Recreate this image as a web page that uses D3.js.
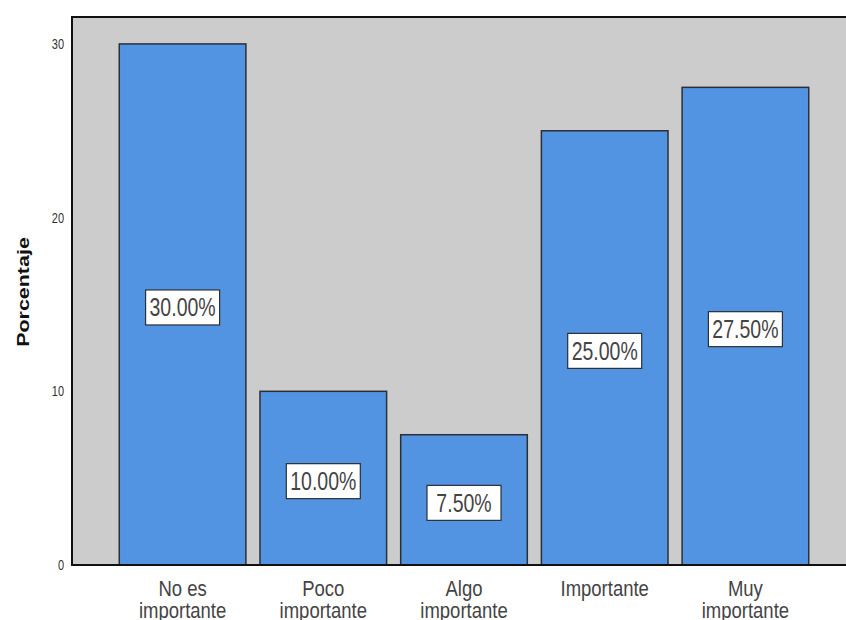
<!DOCTYPE html>
<html>
<head>
<meta charset="utf-8">
<script src="https://cdn.jsdelivr.net/npm/d3@7"></script>
<style>
  body { margin: 0; background: #fff; }
  svg { display: block; }
  text { font-family: "Liberation Sans", Arial, sans-serif; }
</style>
</head>
<body>
<svg id="chart"></svg>
<script>
// values
const categories = [["No es", "importante"], ["Poco", "importante"], ["Algo", "importante"], ["Importante"], ["Muy", "importante"]]
const percents = [30, 10, 7.5, 25, 27.5]
const yTicks = [0, 10, 20, 30]
const yLabel = "Porcentaje"

const width = 846, height = 620
// the plot runs past the right edge of the picture
const margin = {top: 17, right: -10, bottom: 55, left: 72}
const stretch = 1.3  // text in the original is drawn a little tall

const svg = d3.select("#chart")
  .attr("width", width)
  .attr("height", height)

const x = d3.scaleBand()
  .domain(d3.range(percents.length))
  .range([margin.left, width - margin.right])
  .paddingInner(0.1)
  .paddingOuter(0.336)

const y = d3.scaleLinear()
  .domain([0, 31.55])
  .range([height - margin.bottom, margin.top])

// gray plot background
svg.append("rect")
  .attr("x", margin.left)
  .attr("y", margin.top)
  .attr("width", width - margin.right - margin.left)
  .attr("height", y(0) - margin.top)
  .attr("fill", "#cccccc")

// bars
svg.append("g")
  .selectAll("rect")
  .data(percents)
  .join("rect")
    .attr("x", (d, i) => x(i))
    .attr("y", d => y(d))
    .attr("width", x.bandwidth())
    .attr("height", d => y(0) - y(d))
    .attr("fill", "#5294e2")
    .attr("stroke", "#2b2f36")
    .attr("stroke-width", 1.5)

// frame lines: left, top, bottom
svg.append("path")
  .attr("fill", "none")
  .attr("stroke", "#111")
  .attr("stroke-width", 2)
  .attr("d", d3.line()([[width - margin.right, margin.top], [margin.left, margin.top], [margin.left, y(0)], [width - margin.right, y(0)]]))

// y axis tick labels
svg.append("g")
  .selectAll("text")
  .data(yTicks)
  .join("text")
    .attr("transform", d => `translate(${margin.left - 8},${y(d) + 5}) scale(1,${stretch})`)
    .attr("text-anchor", "end")
    .attr("font-size", 11)
    .attr("fill", "#333")
    .text(d => d)

// y axis title
svg.append("text")
  .attr("transform", `translate(29,${(margin.top + y(0)) / 2 + 1}) scale(1,${stretch}) rotate(-90)`)
  .attr("text-anchor", "middle")
  .attr("font-size", 16.5)
  .attr("font-weight", "bold")
  .attr("fill", "#111")
  .text(yLabel)

// category labels
const cat = svg.append("g")
  .selectAll("g")
  .data(categories)
  .join("g")
    .attr("transform", (d, i) => `translate(${x(i) + x.bandwidth() / 2},${y(0)})`)

cat.selectAll("text")
  .data(d => d)
  .join("text")
    .attr("transform", (d, j) => `translate(0,${31 + j * 22}) scale(1,1.2)`)
    .attr("text-anchor", "middle")
    .attr("font-size", 18.5)
    .attr("fill", "#444")
    .text(d => d)

// value labels in white boxes
const fmt = d => d3.format(".2f")(d) + "%"
const lab = svg.append("g")
  .selectAll("g")
  .data(percents)
  .join("g")
    .attr("transform", (d, i) => `translate(${x(i) + x.bandwidth() / 2},${y(d / 2) + 3})`)

lab.append("rect")
  .attr("x", -37)
  .attr("y", -17.5)
  .attr("width", 74)
  .attr("height", 35)
  .attr("fill", "#fff")
  .attr("stroke", "#2b2f36")
  .attr("stroke-width", 1.2)

lab.append("text")
  .attr("transform", `translate(0,9) scale(1,${stretch})`)
  .attr("text-anchor", "middle")
  .attr("font-size", 19.5)
  .attr("fill", "#444")
  .text(d => fmt(d))
</script>
</body>
</html>
